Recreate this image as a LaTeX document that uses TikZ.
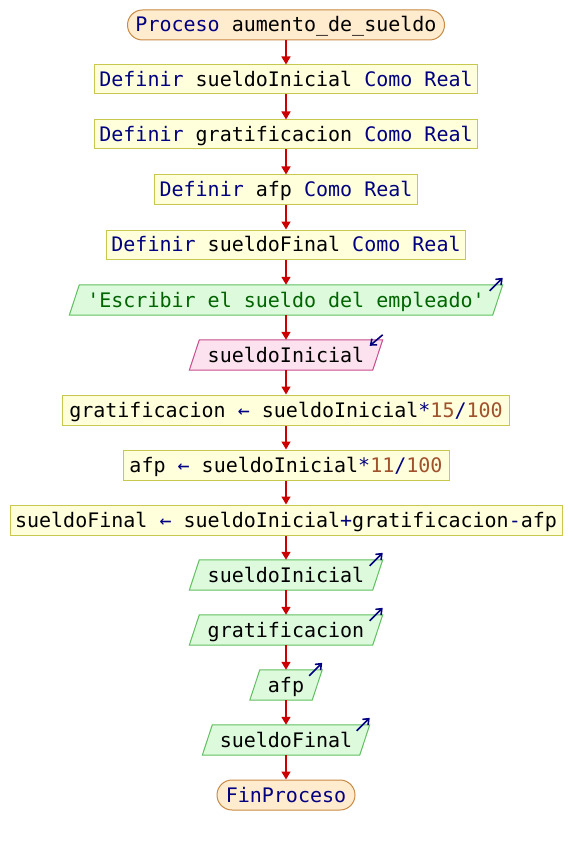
\documentclass[tikz,border=0pt]{standalone}
\usepackage{fontspec}
\setmonofont{DejaVu Sans Mono}
\usetikzlibrary{arrows.meta,backgrounds,calc}
\definecolor{kwc}{HTML}{000080}
\definecolor{strc}{HTML}{006400}
\definecolor{numc}{HTML}{A0522D}
\definecolor{flowc}{HTML}{CC0000}
\definecolor{termfill}{HTML}{FFEBCD}
\definecolor{termdraw}{HTML}{C88A44}
\definecolor{procfill}{HTML}{FFFFDC}
\definecolor{procdraw}{HTML}{C8C850}
\definecolor{outfill}{HTML}{DDFADD}
\definecolor{outdraw}{HTML}{60C060}
\definecolor{infill}{HTML}{FCE1EE}
\definecolor{indraw}{HTML}{C84C8C}
\newcommand{\K}[1]{\textcolor{kwc}{#1}}
\newcommand{\Nm}[1]{\textcolor{numc}{#1}}
\newcommand{\Str}[1]{\textcolor{strc}{#1}}
\begin{document}
\begin{tikzpicture}[x=1pt,y=-1pt,
  font=\ttfamily\fontsize{20}{24}\selectfont,
  base/.style={inner sep=0pt, text height=14pt, text depth=0pt, anchor=center},
  term/.style={base, minimum height=30pt, rounded corners=15pt, fill=termfill, draw=termdraw, line width=1pt},
  proc/.style={base, minimum height=29pt, fill=procfill, draw=procdraw, line width=1pt},
  pgr/.style={base, minimum height=30pt},
  outshape/.style={fill=outfill, draw=outdraw, line width=1pt},
  inshape/.style={fill=infill, draw=indraw, line width=1pt},
  flow/.style={draw=flowc, line width=1.6pt, -{Triangle[width=9pt,length=8pt]}},
  icon/.style={draw=kwc, line width=1.6pt, -{Straight Barb[length=5pt,width=8pt]}}
]
\useasboundingbox (0,0) rectangle (572,845);

\node[term, minimum width=317pt] (start) at (286,25) {\K{Proceso} aumento\_de\_sueldo};
\node[proc, minimum width=383pt] (d1) at (286,79.5) {\K{Definir} sueldoInicial \K{Como Real}};
\node[proc, minimum width=383pt] (d2) at (286,134.5) {\K{Definir} gratificacion \K{Como Real}};
\node[proc, minimum width=263pt] (d3) at (286,189.5) {\K{Definir} afp \K{Como Real}};
\node[proc, minimum width=359pt] (d4) at (286,244.5) {\K{Definir} sueldoFinal \K{Como Real}};
\node[pgr, minimum width=423pt] (esc) at (286,300) {\Str{'Escribir el sueldo del empleado'}};
\node[pgr, minimum width=183pt] (rd) at (286,355) {sueldoInicial};
\node[proc, minimum width=447pt, minimum height=30pt] (a1) at (286,410) {gratificacion \K{←} sueldoInicial\K{*}\Nm{15}\K{/}\Nm{100}};
\node[proc, minimum width=326pt, minimum height=30pt] (a2) at (286,465) {afp \K{←} sueldoInicial\K{*}\Nm{11}\K{/}\Nm{100}};
\node[proc, minimum width=552pt, minimum height=30pt] (a3) at (286,520) {sueldoFinal \K{←} sueldoInicial\K{+}gratificacion\K{-}afp};
\node[pgr, minimum width=183pt] (o1) at (286,575) {sueldoInicial};
\node[pgr, minimum width=183pt] (o2) at (286,630) {gratificacion};
\node[pgr, minimum width=62pt] (o3) at (286,685) {afp};
\node[pgr, minimum width=157pt] (o4) at (286,740) {sueldoFinal};
\node[term, minimum width=138pt] (fin) at (286,795) {\K{FinProceso}};

\begin{scope}[on background layer]
  \fill[white] (0,0) rectangle (572,845);
  \foreach \n/\s in {esc/outshape, rd/inshape, o1/outshape, o2/outshape, o3/outshape, o4/outshape} {
    \draw[\s] ($(\n.south west)+(-5,0)$) -- ($(\n.south east)+(-5,0)$) -- ($(\n.north east)+(5,0)$) -- ($(\n.north west)+(5,0)$) -- cycle;
  }
\end{scope}

\foreach \n in {esc, o1, o2, o3, o4} {
  \draw[icon] ($(\n.north east)+(-8,6)$) -- ($(\n.north east)+(5,-7)$);
}
\draw[icon] ($(rd.north east)+(5,-5)$) -- ($(rd.north east)+(-8,6)$);

\draw[flow] (start.south) -- (d1.north);
\draw[flow] (d1.south) -- (d2.north);
\draw[flow] (d2.south) -- (d3.north);
\draw[flow] (d3.south) -- (d4.north);
\draw[flow] (d4.south) -- (esc.north);
\draw[flow] (esc.south) -- (rd.north);
\draw[flow] (rd.south) -- (a1.north);
\draw[flow] (a1.south) -- (a2.north);
\draw[flow] (a2.south) -- (a3.north);
\draw[flow] (a3.south) -- (o1.north);
\draw[flow] (o1.south) -- (o2.north);
\draw[flow] (o2.south) -- (o3.north);
\draw[flow] (o3.south) -- (o4.north);
\draw[flow] (o4.south) -- (fin.north);
\end{tikzpicture}
\end{document}
